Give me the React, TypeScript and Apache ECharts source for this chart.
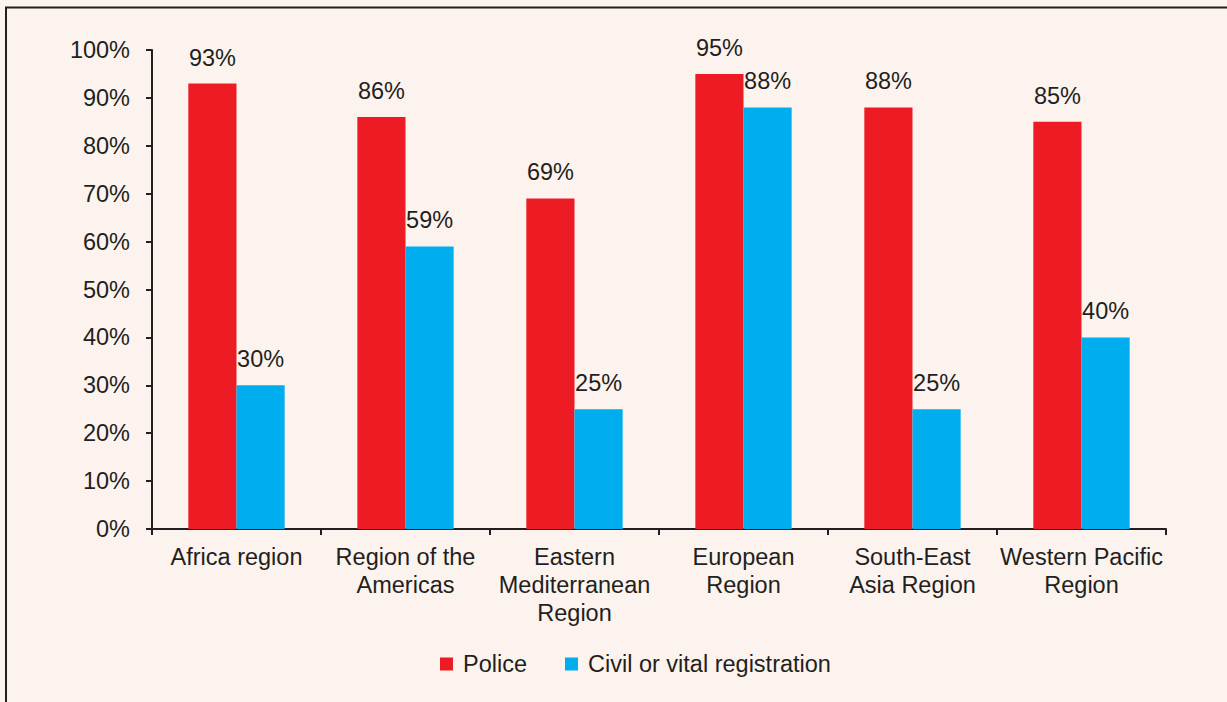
import React, { useEffect, useRef } from "react";
import * as echarts from "echarts";

const categories = [
  "Africa region",
  "Region of the\nAmericas",
  "Eastern\nMediterranean\nRegion",
  "European\nRegion",
  "South-East\nAsia Region",
  "Western Pacific\nRegion",
];
const police = [93, 86, 69, 95, 88, 85];
const civil = [30, 59, 25, 88, 25, 40];

const FONT = "'Liberation Sans', Arial, sans-serif";
const TEXT = "#231F20";
const FS = 23.5;

export default function App() {
  const ref = useRef<HTMLDivElement>(null);
  useEffect(() => {
    if (!ref.current) return;
    const chart = echarts.init(ref.current, undefined, { renderer: "svg" });
    const label = {
      show: true,
      position: "top",
      distance: 14,
      formatter: "{c}%",
      fontSize: FS,
      color: TEXT,
      fontFamily: FONT,
    };
    chart.setOption({
      animation: false,
      backgroundColor: "#FCF3EE",
      textStyle: { fontFamily: FONT },
      graphic: [
        {
          type: "rect",
          shape: { x: 6, y: 7.5, width: 1400, height: 900 },
          style: { fill: "none", stroke: TEXT, lineWidth: 2 },
          silent: true,
        },
      ],
      grid: { left: 152, right: 61, top: 50, bottom: 173, containLabel: false },
      legend: {
        bottom: 26,
        left: 440,
        padding: 0,
        itemWidth: 13,
        itemHeight: 13,
        itemGap: 38,
        icon: "rect",
        textStyle: { fontSize: FS, color: TEXT, fontFamily: FONT, padding: [0, 0, 0, 5] },
        data: ["Police", "Civil or vital registration"],
      },
      xAxis: {
        type: "category",
        data: categories,
        axisLine: { lineStyle: { color: TEXT, width: 2 } },
        axisTick: { show: true, length: 6, alignWithLabel: false, lineStyle: { color: TEXT, width: 2 } },
        axisLabel: { fontSize: FS, color: TEXT, fontFamily: FONT, lineHeight: 28, margin: 14, interval: 0 },
      },
      yAxis: {
        type: "value",
        min: 0,
        max: 100,
        interval: 10,
        splitLine: { show: false },
        axisLine: { show: true, lineStyle: { color: TEXT, width: 2 } },
        axisTick: { show: true, length: 6, lineStyle: { color: TEXT, width: 2 } },
        axisLabel: { fontSize: FS, color: TEXT, fontFamily: FONT, formatter: "{value}%", margin: 22 },
      },
      series: [
        {
          name: "Police",
          type: "bar",
          data: police,
          itemStyle: { color: "#ED1C24" },
          barGap: "0%",
          barCategoryGap: "43%",
          label,
        },
        {
          name: "Civil or vital registration",
          type: "bar",
          data: civil,
          itemStyle: { color: "#00AEEF" },
          barGap: "0%",
          barCategoryGap: "43%",
          label,
        },
      ],
    });
    return () => chart.dispose();
  }, []);
  return (
    <div
      ref={ref}
      style={{ position: "fixed", left: 0, top: 0, width: 1227, height: 702 }}
    />
  );
}
